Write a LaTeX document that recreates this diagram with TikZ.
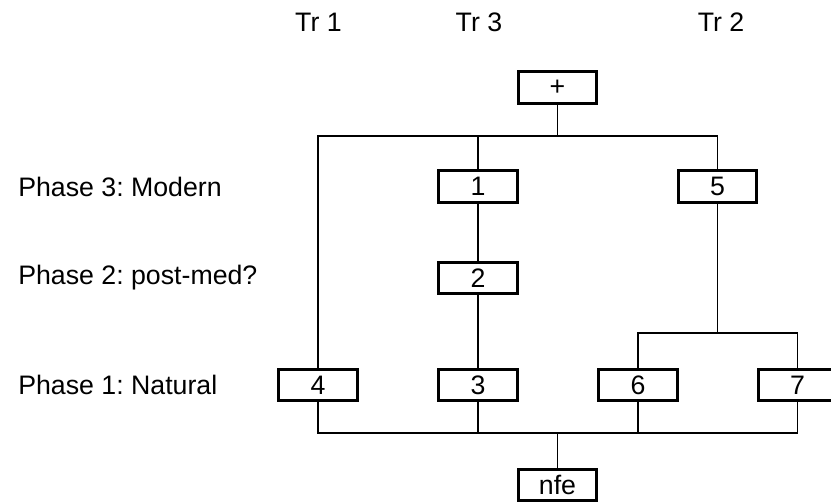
\documentclass[tikz,border=0pt]{standalone}
\usepackage{fontspec}
\setmainfont{Liberation Sans}
\usetikzlibrary{positioning}
\frenchspacing

\tikzset{
  phasebox/.style={draw, line width=1.9pt, minimum width=1.96cm, minimum height=0.79cm, inner sep=0pt},
  conn/.style={line width=1.2pt},
  lbl/.style={inner sep=0pt}
}

\begin{document}
\begin{tikzpicture}[x=0.025cm, y=-0.025cm, font=\fontsize{19}{22}\selectfont]
			\useasboundingbox (0,0) rectangle (831,503);
			% trench headings
			\node[lbl] (tr1) at (318.5,22) {Tr 1};
			\node[lbl] (tr3) at (479,22) {Tr 3};
			\node[lbl] (tr2) at (721,22) {Tr 2};
			% phase labels
			\node[lbl, anchor=west] (ph3) at (18,187) {Phase 3: Modern};
			\node[lbl, anchor=west] (ph2) at (18,278) {Phase 2: post-med?};
			\node[lbl, anchor=west] (ph1) at (18,385) {Phase 1: Natural};
			% boxes
			\node[phasebox] (plus) at (557.5,87.5) {+};
			\node[phasebox] (b1) at (478,186.5) {1};
			\node[phasebox] (b5) at (717.5,186.5) {5};
			\node[phasebox] (b2) at (478,278) {2};
			\node[phasebox] (b4) at (318,385) {4};
			\node[phasebox] (b3) at (478,385) {3};
			\node[phasebox] (b6) at (638,385) {6};
			\node[phasebox] (b7) at (797.5,385) {7};
			\node[phasebox] (nfe) at (557.5,485) {nfe};
			% junctions
			\coordinate (jt) at (557.5,136);
			\coordinate (jm) at (717.5,333);
			\coordinate (jb) at (557.5,433);
			% connectors
			\draw[conn] (plus) -- (jt);
			\draw[conn] (b4.north) |- (jt) -| (b5.north);
			\draw[conn] (b1.north) -- (b1.north |- jt);
			\draw[conn] (b1) -- (b2);
			\draw[conn] (b2) -- (b3);
			\draw[conn] (b5) -- (jm);
			\draw[conn] (b6.north) |- (jm) -| (b7.north);
			\draw[conn] (b4.south) |- (jb) -| (b7.south);
			\draw[conn] (b3.south) -- (b3.south |- jb);
			\draw[conn] (b6.south) -- (b6.south |- jb);
			\draw[conn] (jb) -- (nfe);
		\end{tikzpicture}
\end{document}
